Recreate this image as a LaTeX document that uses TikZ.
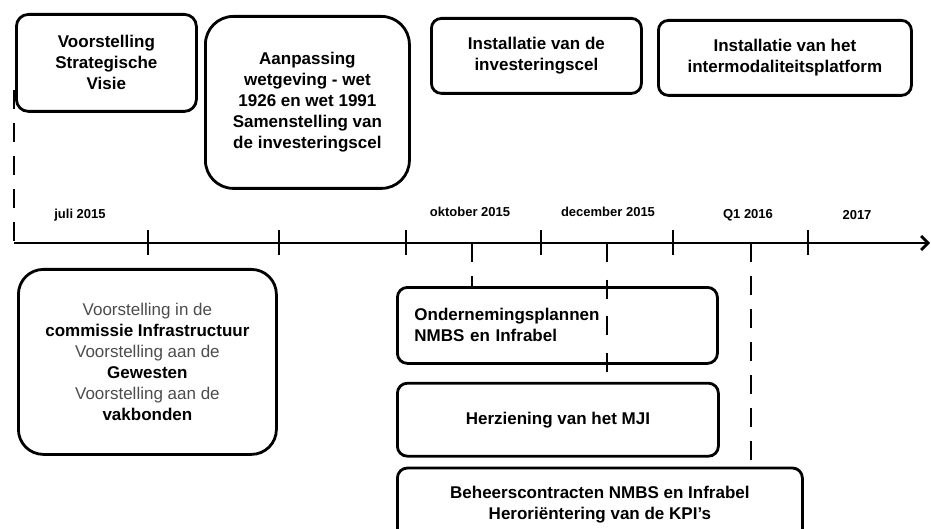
\documentclass[tikz,border=0pt]{standalone}
\usepackage{fontspec}
\setmainfont{Liberation Sans}
\usetikzlibrary{positioning,arrows.meta}

\begin{document}
\begin{tikzpicture}[x=1pt, y=-1pt, line width=2.8pt,
    box/.style={draw, rounded corners=10pt, inner sep=0pt, anchor=north west,
      align=center, font=\fontsize{17}{21}\selectfont\bfseries},
    lijn/.style={dash pattern=on 19pt off 14pt},
    datum/.style={font=\fontsize{13}{15}\selectfont\bfseries}]
      \useasboundingbox (0,0) rectangle (931,529);
      % boven de tijdlijn
      \node [box, rounded corners=12pt, minimum width=180pt, minimum height=97pt] (visie) at (15,13) {Voorstelling\\Strategische\\Visie};
      \node [box, rounded corners=28pt, minimum width=204pt, minimum height=172pt] (wet) at (204,15) {Aanpassing\\wetgeving - wet\\1926 en wet 1991\\Samenstelling van\\de investeringscel};
      \node [box, minimum width=210pt, minimum height=75pt] (cel) at (430,17) {Installatie van de\\investeringscel};
      \node [box, minimum width=253pt, minimum height=75pt] (platform) at (657,19) {Installatie van het\\intermodaliteitsplatform};
      % tijdlijn
      \coordinate (start) at (14,243);
      \coordinate (eind) at (930,243);
      \coordinate (visieeind) at (14,90);
      \draw [-{Straight Barb[length=7pt,width=14pt]}] (start) -- (eind);
      \draw [lijn] (visieeind) -- (start);
      \foreach \x in {148,279,406,541,673,808}
        \draw (\x,230) -- (\x,255);
      \node [datum] (juli) at (80,215) {juli 2015};
      \node [datum] (okt) at (470,212) {oktober 2015};
      \node [datum] (dec) at (608,212) {december 2015};
      \node [datum] (q1) at (748,215) {Q1 2016};
      \node [datum] (jaar) at (857,215) {2017};
      % onder de tijdlijn
      \node [box, rounded corners=25pt, minimum width=258pt, minimum height=185pt] (comm) at (17,268)
        {{\mdseries\color{black!70}Voorstelling in de}\\commissie Infrastructuur\\{\mdseries\color{black!70}Voorstelling aan de}\\Gewesten\\{\mdseries\color{black!70}Voorstelling aan de}\\vakbonden};
      \node [box, align=left, inner xsep=17pt, text width=286pt, minimum height=76pt] (ondern) at (396,286) {Ondernemingsplannen\\NMBS en Infrabel};
      \node [box, below=17pt of ondern.south west, anchor=north west, minimum width=321pt, minimum height=73pt] (mji) {Herziening van het MJI};
      \node [box, below=9pt of mji.south west, anchor=north west, minimum width=405pt, minimum height=73pt] (beheer) {Beheerscontracten NMBS en Infrabel\\Heroriëntering van de KPI's};
      \coordinate (oktlijn) at (472,243);
      \coordinate (declijn) at (607,243);
      \coordinate (declijneind) at (607,372);
      \coordinate (q1lijn) at (751,243);
      \draw [lijn] (oktlijn) -- (oktlijn |- ondern.north);
      \draw [dash pattern=on 19pt off 17.7pt] (declijn) -- (declijneind);
      \draw [lijn] (q1lijn) -- (q1lijn |- beheer.north);
\end{tikzpicture}
\end{document}
